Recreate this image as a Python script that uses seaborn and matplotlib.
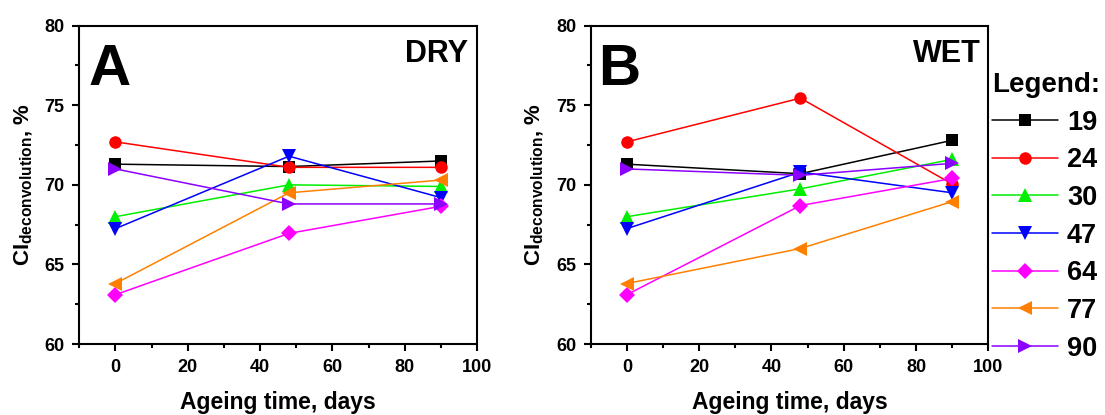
import matplotlib
matplotlib.use("Agg")
import matplotlib.pyplot as plt
import seaborn as sns
import pandas as pd
from matplotlib.ticker import MultipleLocator

sns.set_style("ticks")
plt.rcParams['font.family'] = ['Liberation Sans', 'DejaVu Sans']
plt.rcParams['font.weight'] = 'bold'
plt.rcParams['mathtext.fontset'] = 'custom'
plt.rcParams['mathtext.bf'] = 'Liberation Sans:bold'
plt.rcParams['mathtext.rm'] = 'Liberation Sans:bold'
for k in ['text.color', 'axes.labelcolor', 'xtick.color', 'ytick.color', 'axes.edgecolor']:
    plt.rcParams[k] = 'black'

days = [0, 48, 90]
samples = ["19", "24", "30", "47", "64", "77", "90"]
dry = {
    "19": [71.3, 71.15, 71.5],
    "24": [72.7, 71.1, 71.1],
    "30": [68.0, 70.0, 69.9],
    "47": [67.25, 71.8, 69.2],
    "64": [63.1, 66.95, 68.65],
    "77": [63.8, 69.5, 70.3],
    "90": [71.0, 68.8, 68.8],
}
wet = {
    "19": [71.3, 70.7, 72.8],
    "24": [72.7, 75.45, 70.05],
    "30": [68.0, 69.75, 71.6],
    "47": [67.25, 70.8, 69.5],
    "64": [63.1, 68.7, 70.4],
    "77": [63.8, 66.0, 68.95],
    "90": [71.0, 70.6, 71.35],
}
colors = ["#000000", "#FF0000", "#00EE00", "#0000FF", "#FF00FF", "#FF8000", "#8C00FF"]
markers = ["s", "o", "^", "v", "D", "<", ">"]
msizes = {"s": 8, "o": 9, "^": 10.5, "v": 10.5, "D": 8, "<": 10.5, ">": 10.5}
palette = dict(zip(samples, colors))
mk = dict(zip(samples, markers))

def to_df(d):
    rows = []
    for s in samples:
        for t, v in zip(days, d[s]):
            rows.append({"days": t, "CI": v, "sample": s})
    return pd.DataFrame(rows)

fig = plt.figure(figsize=(11.05, 4.15), dpi=100)
axA = fig.add_axes([79.3/1105, 71/415, 397.7/1105, 318.3/415])
axB = fig.add_axes([590.7/1105, 71/415, 397.7/1105, 318.3/415])

for ax, d, letter, lx, cond, cx in [(axA, dry, "A", 0.022, "DRY", 0.977),
                                    (axB, wet, "B", 0.018, "WET", 0.98)]:
    sns.lineplot(data=to_df(d), x="days", y="CI", hue="sample", style="sample",
                 hue_order=samples, style_order=samples, palette=palette,
                 markers=mk, dashes=False, markersize=9, markeredgewidth=0,
                 linewidth=1.1, legend=False, ax=ax)
    for ln in ax.get_lines():
        m = ln.get_marker()
        if m in msizes:
            ln.set_markersize(msizes[m])
    ax.set_xlim(-10, 100)
    ax.set_ylim(60, 80)
    ax.xaxis.set_major_locator(MultipleLocator(20))
    ax.xaxis.set_minor_locator(MultipleLocator(10))
    ax.yaxis.set_major_locator(MultipleLocator(5))
    ax.yaxis.set_minor_locator(MultipleLocator(2.5))
    ax.tick_params(which='major', direction='out', length=5, width=1.5, labelsize=13, pad=5.5)
    ax.tick_params(which='minor', direction='out', length=3, width=1.5)
    for lbl in ax.get_xticklabels() + ax.get_yticklabels():
        lbl.set_fontweight('bold')
    for sp in ax.spines.values():
        sp.set_linewidth(1.5)
        sp.set_visible(True)
    ax.set_xlabel("Ageing time, days", fontsize=16.5, fontweight='bold', labelpad=11)
    ax.set_ylabel(r"CI$_{\mathbf{deconvolution}}$, %", fontsize=16, fontweight='bold', labelpad=7)
    ax.text(lx, 0.814, letter, transform=ax.transAxes, fontsize=42, fontweight='bold',
            ha='left', va='baseline')
    ax.text(cx, 0.887, cond, transform=ax.transAxes, fontsize=22, fontweight='bold',
            ha='right', va='baseline')

handles = axB.get_lines()[:7]
leg = fig.legend(handles, samples, loc='upper left', bbox_to_anchor=(0.8977, 0.8265),
                 frameon=False, fontsize=19.5, title="Legend:", title_fontsize=20,
                 alignment='left', handlelength=2.44, handletextpad=0.33,
                 labelspacing=0.43, borderpad=0, borderaxespad=0)
leg.get_title().set_fontweight('bold')
for t in leg.get_texts():
    t.set_fontweight('bold')

fig.savefig("out.png", dpi=100)
